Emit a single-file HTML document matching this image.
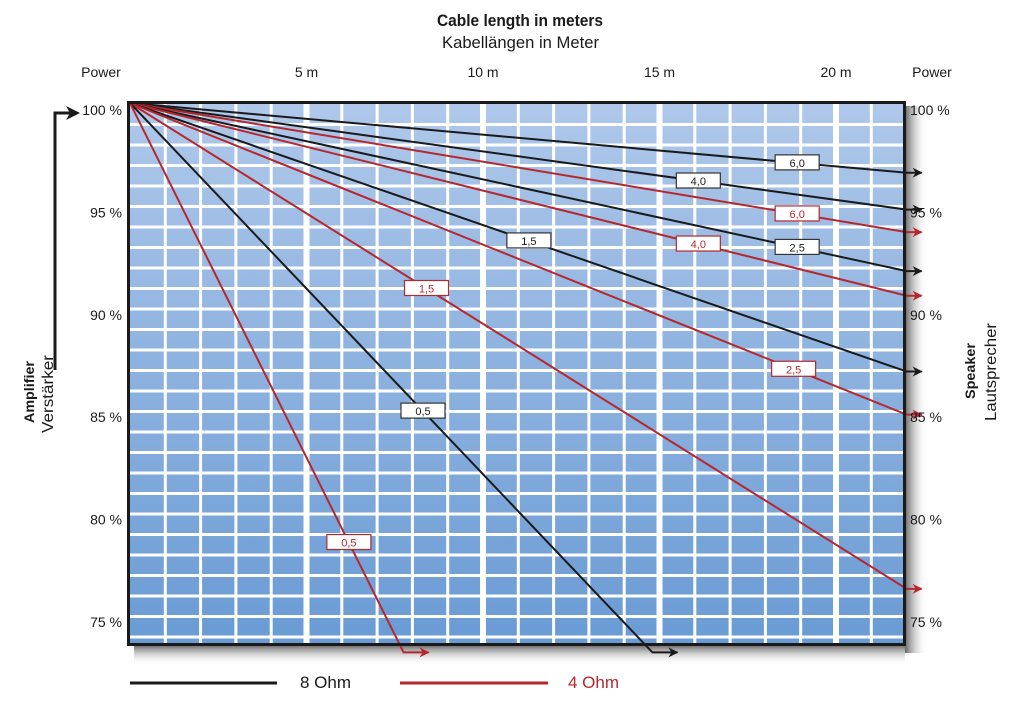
<!DOCTYPE html>
<html><head><meta charset="utf-8"><style>
body{margin:0;background:#fff;width:1020px;height:709px;overflow:hidden;font-family:"Liberation Sans",sans-serif}
svg{position:absolute;left:0;top:0}
</style></head><body>
<svg width="1020" height="709" viewBox="0 0 1020 709">
<defs>
<linearGradient id="bg" x1="0" y1="0" x2="0" y2="1"><stop offset="0" stop-color="#afc8ea"/><stop offset="1" stop-color="#6a9bd4"/></linearGradient>
<linearGradient id="shR" x1="0" y1="0" x2="1" y2="0"><stop offset="0" stop-color="#666"/><stop offset="1" stop-color="#fff" stop-opacity="0"/></linearGradient>
<linearGradient id="shB" x1="0" y1="0" x2="0" y2="1"><stop offset="0" stop-color="#666"/><stop offset="1" stop-color="#fff" stop-opacity="0"/></linearGradient>
<marker id="ak" markerWidth="10" markerHeight="10" refX="9" refY="5" orient="auto" markerUnits="userSpaceOnUse"><path d="M0,0 L10,5 L0,10 L3,5z" fill="#1a1a1a"/></marker>
<marker id="ar" markerWidth="10" markerHeight="10" refX="9" refY="5" orient="auto" markerUnits="userSpaceOnUse"><path d="M0,0 L10,5 L0,10 L3,5z" fill="#b5282e"/></marker>
</defs>
<g id="frame-shadow">
<rect x="905" y="106" width="22" height="547" fill="url(#shR)"/>
<rect x="134" y="645" width="771" height="20" fill="url(#shB)"/>
</g>
<rect x="128" y="102" width="777" height="543" fill="url(#bg)"/>
<g id="grid"></g>
<g id="series"></g>
<rect x="128.5" y="102.5" width="776" height="542" fill="none" stroke="#1a1a1a" stroke-width="3"/>
<g id="labels"></g>
<text x="437" y="26" textLength="166" lengthAdjust="spacingAndGlyphs" font-weight="bold" font-size="17" fill="#1a1a1a">Cable length in meters</text>
<text x="442" y="48" textLength="157" lengthAdjust="spacingAndGlyphs" font-size="17" fill="#1a1a1a">Kabellängen in Meter</text>
<text x="101" y="77" text-anchor="middle" font-size="14" fill="#1a1a1a">Power</text>
<text x="932" y="77" text-anchor="middle" font-size="14" fill="#1a1a1a">Power</text>
<g id="xticks"></g>
<g id="yticks"></g>
<g>
<path d="M55,370 L55,113 L72,113" fill="none" stroke="#1a1a1a" stroke-width="3"/>
<path d="M66,106 L80,113 L66,120 L70,113z" fill="#1a1a1a"/>
</g>
<text transform="translate(34,423) rotate(-90)" textLength="62" lengthAdjust="spacingAndGlyphs" font-weight="bold" font-size="14" fill="#1a1a1a">Amplifier</text>
<text transform="translate(53,433) rotate(-90)" textLength="78" lengthAdjust="spacingAndGlyphs" font-size="16" fill="#1a1a1a">Verstärker</text>
<text transform="translate(975,399) rotate(-90)" textLength="56" lengthAdjust="spacingAndGlyphs" font-weight="bold" font-size="14" fill="#1a1a1a">Speaker</text>
<text transform="translate(996,421) rotate(-90)" textLength="98" lengthAdjust="spacingAndGlyphs" font-size="16" fill="#1a1a1a">Lautsprecher</text>
<g>
<line x1="130" y1="683" x2="277" y2="683" stroke="#1a1a1a" stroke-width="3"/>
<text x="300" y="688" font-size="17" fill="#1a1a1a">8 Ohm</text>
<line x1="400" y1="683" x2="548" y2="683" stroke="#b5282e" stroke-width="3"/>
<text x="568" y="688" font-size="17" fill="#b5282e">4 Ohm</text>
</g>
</svg>
<script>
const xTicks=[5,10,15,20];
const yTicks=[100,95,90,85,80,75];
const seriesNames=["8ohm-6.0","8ohm-4.0","4ohm-6.0","8ohm-2.5","4ohm-4.0","8ohm-1.5","4ohm-2.5","4ohm-1.5","8ohm-0.5","4ohm-0.5"];
const seriesLabels=["6,0","4,0","6,0","2,5","4,0","1,5","2,5","1,5","0,5","0,5"];
const seriesIsRed=[0,0,1,0,1,0,1,1,0,1];
const endLength=[22,22,22,22,22,22,22,22,14.8,7.75];
const endPower=[96.6,94.8,93.7,91.8,90.6,86.9,84.8,76.3,73.2,73.2];
const labelLength=[18.9,16.1,18.9,18.9,16.1,11.3,18.8,8.4,8.3,6.2];
const NS="http://www.w3.org/2000/svg";
const X=m=>130+m*35.3;
const Y=p=>103+(100-p)*20.5;
function mk(t,a,p){const e=document.createElementNS(NS,t);for(const k in a)e.setAttribute(k,a[k]);p.appendChild(e);return e;}
const grid=document.getElementById('grid');
for(let m=1;m<22;m++){const l=mk('line',{x1:X(m),y1:103,x2:X(m),y2:645,stroke:'#fff','stroke-width':m%5==0?6:3},grid);

}
for(let p=99;p>73;p--){const l=mk('line',{x1:128,y1:Y(p)+1,x2:905,y2:Y(p)+1,stroke:'#fff','stroke-width':3},grid);

}
const xt=document.getElementById('xticks');
xTicks.forEach(m=>{const t=mk('text',{x:X(m),y:77,'text-anchor':'middle','font-size':14,fill:'#1a1a1a'},xt);t.textContent=m+' m';

});
const yt=document.getElementById('yticks');
yTicks.forEach((p,i)=>{const y=110+i*102.4+5;
const a=mk('text',{x:122,y:y,'text-anchor':'end','font-size':14,fill:'#1a1a1a'},yt);a.textContent=p+' %';


const b=mk('text',{x:910,y:y,'font-size':14,fill:'#1a1a1a'},yt);b.textContent=p+' %';

});
const sg=document.getElementById('series'),lg=document.getElementById('labels');
seriesNames.forEach((n,i)=>{const col=seriesIsRed[i]?'#b5282e':'#1a1a1a';
const x2=X(endLength[i]),y2=Y(endPower[i]);
let d;
if(endLength[i]>=22){d=`M${X(0)},${Y(100)} L${x2},${y2} L${x2+15},${y2}`;}
else{d=`M${X(0)},${Y(100)} L${x2},${y2} L${x2+25},${y2}`;}
const p=mk('path',{d:d,fill:'none',stroke:col,'stroke-width':2,'marker-end':seriesIsRed[i]?'url(#ar)':'url(#ak)'},sg);


const lx=X(labelLength[i]);const ly=Y(100)+(y2-Y(100))*(labelLength[i]/endLength[i]);
const g=mk('g',{},lg);


mk('rect',{x:lx-22,y:ly-8,width:44,height:15,fill:'#fff',stroke:seriesIsRed[i]?'#b5282e':'#333','stroke-width':1.2},g);
const t=mk('text',{x:lx,y:ly+4,'text-anchor':'middle','font-size':11,fill:col},g);t.textContent=seriesLabels[i];});
</script>
</body></html>
